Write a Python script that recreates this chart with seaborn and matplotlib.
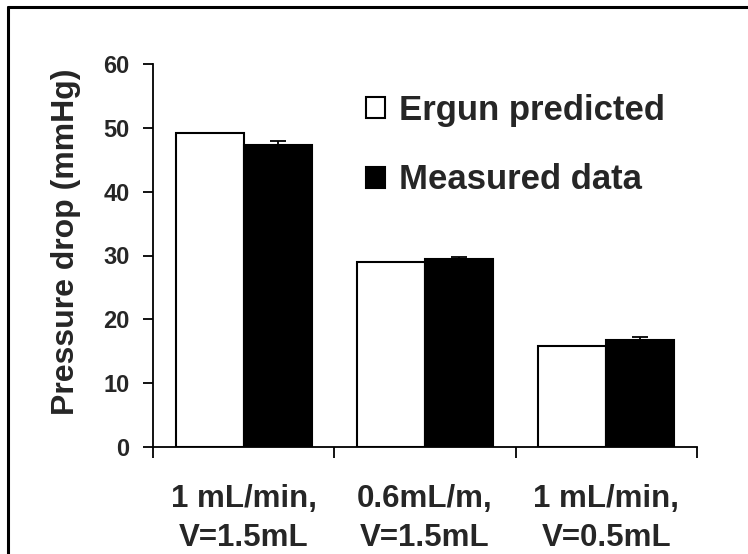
import matplotlib
matplotlib.use("Agg")
import matplotlib.pyplot as plt
from matplotlib.lines import Line2D
from matplotlib.patches import Patch
import seaborn as sns
import pandas as pd
import numpy as np

categories = ["1 mL/min,\nV=1.5mL", "0.6mL/m,\nV=1.5mL", "1 mL/min,\nV=0.5mL"]
series_names = ["Ergun predicted", "Measured data"]
ergun_values = [49.2, 29.0, 15.9]
measured_values = [47.3, 29.4, 16.8]
measured_err = [0.7, 0.3, 0.5]
y_ticks = [0, 10, 20, 30, 40, 50, 60]

sns.set_theme(style="white")
plt.rcParams['font.family'] = ['Liberation Sans', 'DejaVu Sans']
plt.rcParams['font.weight'] = 'bold'

df = pd.DataFrame({
    "cond": categories * 2,
    "series": [series_names[0]] * 3 + [series_names[1]] * 3,
    "value": ergun_values + measured_values,
})

fig = plt.figure(figsize=(7.48, 5.54), dpi=100)
ax = fig.add_axes([153/748, 1-447/554, (697-153)/748, (447-64)/554])

sns.barplot(data=df, x="cond", y="value", hue="series", order=categories,
            hue_order=series_names, palette=["white", "black"],
            edgecolor="black", linewidth=1.5, width=0.75, errorbar=None,
            ax=ax, legend=False)

# error bars (upper only) for measured data
meas_patches = [p for p in ax.patches if p.get_facecolor()[0] < 0.5]
meas_patches = sorted(meas_patches, key=lambda p: p.get_x())
xs = [p.get_x() + p.get_width() / 2 for p in meas_patches]
ax.errorbar(xs, measured_values, yerr=[np.zeros(3), measured_err], fmt="none",
            ecolor="black", elinewidth=1.3, capsize=6, capthick=1.3)

ax.set_xlim(-0.5, 2.5)
ax.set_ylim(0, 60)
ax.set_yticks(y_ticks)
ax.set_yticklabels([str(t) for t in y_ticks])
for lab in ax.get_yticklabels():
    lab.set_fontsize(17)
    lab.set_fontweight("bold")

ax.set_xticks([-0.5, 0.5, 1.5, 2.5])
ax.set_xticklabels([])
ax.set_xticks([0, 1, 2], minor=True)
ax.set_xticklabels(categories, minor=True, fontsize=22.5, fontweight="bold",
                   linespacing=1.38)
ax.tick_params(axis="x", which="major", direction="out", length=8, width=1.3,
               bottom=True, color="black")
ax.tick_params(axis="x", which="minor", length=0, pad=27)
ax.tick_params(axis="y", direction="out", length=7, width=1.3, left=True,
               pad=10, color="black", labelsize=17)

ax.set_xlabel("")
ax.set_ylabel("Pressure drop (mmHg)", fontsize=23, fontweight="bold")
ax.yaxis.set_label_coords((81 - 153) / 544, (447 - 242) / 383)

for s in ["top", "right"]:
    ax.spines[s].set_visible(False)
for s in ["left", "bottom"]:
    ax.spines[s].set_color("black")
    ax.spines[s].set_linewidth(1.3)

handles = [Patch(facecolor="white", edgecolor="black", linewidth=1.5),
           Patch(facecolor="black", edgecolor="black", linewidth=1.5)]
leg = fig.legend(handles, series_names, loc="upper left",
                 bbox_to_anchor=(366/748, 1-94/554), frameon=False,
                 prop={"size": 25, "weight": "bold"}, handlelength=0.55,
                 handleheight=0.55, handletextpad=0.4, labelspacing=1.05,
                 borderpad=0, borderaxespad=0)

# outer border (top and left visible)
fig.add_artist(Line2D([7.5/748, 1.0], [1-7/554, 1-7/554],
                      transform=fig.transFigure, color="black", linewidth=2.2))
fig.add_artist(Line2D([7.5/748, 7.5/748], [0, 1-7/554],
                      transform=fig.transFigure, color="black", linewidth=2.2))

fig.savefig("out.png", dpi=100, facecolor="white")
